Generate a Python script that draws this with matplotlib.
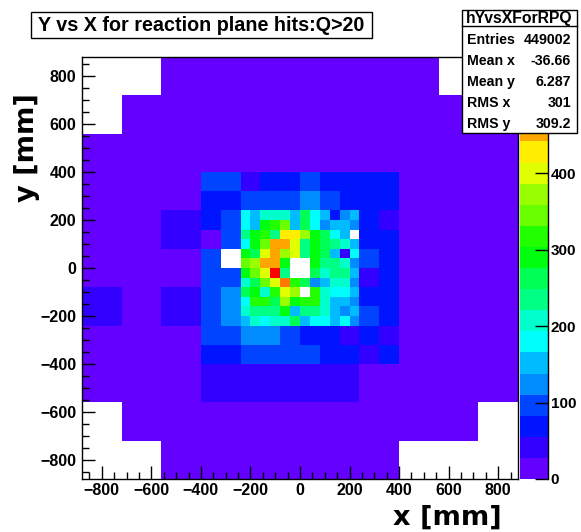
import colorsys
import numpy as np
import matplotlib
matplotlib.use("Agg")
import matplotlib.pyplot as plt
from matplotlib.colors import ListedColormap, BoundaryNorm
from matplotlib.patches import Rectangle
from matplotlib.lines import Line2D
from matplotlib.ticker import MultipleLocator

# ---------------------------------------------------------------- binning (mm)
x_edges = np.arange(-880, 881, 40)
y_edges = np.arange(-880, 881, 40)

# ---------------------------------------------------------------- bin contents
# hits in the big outer modules
outer_count = 18
# (x0, x1, y0, y1, hits) for outer modules that differ from outer_count
outer_modules = [
    (-880, -560, 720, 880, 0), (-880, -720, 560, 720, 0),
    (560, 880, 720, 880, 0), (720, 880, 560, 720, 0),
    (-880, -720, -720, -560, 0), (-880, -560, -880, -720, 0),
    (720, 880, -720, -560, 0), (400, 880, -880, -720, 0),
    (-880, -720, -240, -80, 38),
    (-560, -400, 80, 240, 40),
    (-560, -400, -240, -80, 36),
    (-400, 240, -560, -400, 43),
]

# 80 mm modules covering -400..400 (rows from top, y = 400 -> -400);
# None marks the finely segmented centre
mid_modules = [
    [94, 98, 47, 72, 66, 101, 70, 63, 61, 67],
    [74, 69, 96, 104, 91, 127, 89, 71, 65, 60],
    [71, 92, None, None, None, None, None, None, 68, 49],
    [24, 99, None, None, None, None, None, None, 63, 59],
    [90, 0, None, None, None, None, None, None, 86, 64],
    [95, 102, None, None, None, None, None, None, 52, 62],
    [88, 118, None, None, None, None, None, None, 75, 66],
    [93, 114, None, None, None, None, None, None, 85, 69],
    [97, 100, 123, 128, 90, 73, 67, 51, 64, 46],
    [76, 70, 88, 95, 103, 87, 78, 62, 45, 68],
]

# 40 mm cells covering -240..240 (rows from top, y = 240 -> -240)
core_cells = [
    [178, 151, 206, 210, 203, 154, 262, 181, 149, 68, 122, 156],
    [183, 147, 289, 317, 344, 160, 259, 176, 125, 152, 145, 119],
    [236, 292, 322, 231, 428, 431, 371, 285, 264, 184, 150, 0],
    [175, 296, 347, 452, 458, 401, 228, 290, 266, 239, 209, 143],
    [288, 255, 397, 455, 376, 404, 234, 296, 259, 152, 44, 181],
    [339, 366, 449, 462, 283, 0, 0, 293, 240, 227, 213, 126],
    [294, 352, 410, 552, 242, 0, 0, 270, 204, 233, 230, 158],
    [207, 265, 343, 392, 480, 319, 256, 131, 146, 214, 197, 121],
    [268, 280, 212, 325, 399, 381, 0, 310, 199, 186, 171, 160],
    [177, 312, 306, 262, 374, 286, 321, 315, 217, 155, 141, 128],
    [201, 227, 243, 230, 280, 149, 237, 244, 208, 162, 117, 143],
    [163, 200, 188, 196, 215, 251, 157, 172, 185, 144, 174, 130],
]

# statistics box
hist_name = "hYvsXForRPQ"
stats = [("Entries", "449002"), ("Mean x", "-36.66"), ("Mean y", "6.287"),
         ("RMS x", "301"), ("RMS y", "309.2")]
title = "Y vs X for reaction plane hits:Q>20"
z_ticks = [0, 100, 200, 300, 400]


# ---------------------------------------------------------------- fill histogram
H = np.full((len(y_edges) - 1, len(x_edges) - 1), float(outer_count))


def fill(x0, x1, y0, y1, value):
    ix0, ix1 = np.searchsorted(x_edges, [x0, x1])
    iy0, iy1 = np.searchsorted(y_edges, [y0, y1])
    H[iy0:iy1, ix0:ix1] = value


for x0, x1, y0, y1, v in outer_modules:
    fill(x0, x1, y0, y1, v)
for r, row in enumerate(mid_modules):
    for c, v in enumerate(row):
        if v is not None:
            fill(-400 + 80 * c, -320 + 80 * c, 320 - 80 * r, 400 - 80 * r, v)
for r, row in enumerate(core_cells):
    for c, v in enumerate(row):
        fill(-240 + 40 * c, -200 + 40 * c, 200 - 40 * r, 240 - 40 * r, v)

# ---------------------------------------------------------------- palette
pretty = []
for i in range(50):
    hue = 280.0 - (i + 1) * (280.0 / 50)
    pretty.append(colorsys.hls_to_rgb(hue / 360.0, 0.5, 1.0))
ndiv = 20
level_colors = [pretty[int((k + 0.99) * 50 / ndiv)] for k in range(ndiv)]
zmax = H.max()
levels = np.linspace(0, zmax, ndiv + 1)
cmap = ListedColormap(level_colors)
norm = BoundaryNorm(levels, cmap.N)

# ---------------------------------------------------------------- figure
W, Hpx = 581, 532
fig = plt.figure(figsize=(W / 100, Hpx / 100), dpi=100)
fig.patch.set_facecolor("white")


def fx(px):
    return px / W


def fy(py):
    return 1 - py / Hpx


tick_font = dict(family="Liberation Sans", weight="bold", size=11.5)

ax = fig.add_axes([fx(82), fy(479), fx(518) - fx(82), fy(57) - fy(479)])
mesh = ax.pcolormesh(x_edges, y_edges, np.ma.masked_equal(H, 0), cmap=cmap,
                     norm=norm, edgecolors="none", antialiased=False)
ax.set_xlim(-880, 880)
ax.set_ylim(-880, 880)
ax.xaxis.set_major_locator(MultipleLocator(200))
ax.yaxis.set_major_locator(MultipleLocator(200))
ax.xaxis.set_minor_locator(MultipleLocator(50))
ax.yaxis.set_minor_locator(MultipleLocator(50))
ax.tick_params(which="both", direction="in", top=False, right=False, width=1.0, color="black")
ax.tick_params(which="major", length=9.4)
ax.tick_params(which="minor", length=4.7)
ax.tick_params(axis="x", pad=3)
ax.tick_params(axis="y", pad=4)
for lab in ax.get_xticklabels() + ax.get_yticklabels():
    lab.set_fontproperties(tick_font)
for sp in ax.spines.values():
    sp.set_linewidth(1.0)

# axis titles
fig.text(fx(502), fy(518), "x [mm]", ha="right", va="center",
         family="DejaVu Sans", weight="bold", size=19.5)
fig.text(fx(27), fy(93), "y [mm]", ha="center", va="top", rotation=90,
         family="DejaVu Sans", weight="bold", size=19.5)

# palette axis
cax = fig.add_axes([fx(520), fy(479), fx(548) - fx(520), fy(57) - fy(479)])
cb = fig.colorbar(mesh, cax=cax, ticks=z_ticks)
cb.outline.set_visible(False)
cb.minorticks_off()
cax.tick_params(direction="in", length=9.4, width=1.0, right=True, pad=2)
for lab in cax.get_yticklabels():
    lab.set_fontproperties(dict(family="Liberation Sans", weight="bold", size=11))
cax.add_line(Line2D([1, 1], [0, 1], transform=cax.transAxes, color="black",
                    lw=1.0, clip_on=False))

# title box
fig.patches.append(Rectangle((fx(31), fy(38)), fx(372) - fx(31), fy(12) - fy(38),
                             transform=fig.transFigure, facecolor="white",
                             edgecolor="black", lw=1.0, zorder=5))
fig.text(fx(201.5), fy(25.5), title, ha="center", va="center",
         family="Liberation Sans", weight="bold", size=14.2, zorder=6)

# statistics box
bx0, bx1, by0, by1 = 462, 577, 10, 133
fig.patches.append(Rectangle((fx(bx0), fy(by1)), fx(bx1) - fx(bx0), fy(by0) - fy(by1),
                             transform=fig.transFigure, facecolor="white",
                             edgecolor="black", lw=1.0, zorder=5))
fig.lines.append(Line2D([fx(bx0), fx(bx1)], [fy(26), fy(26)], transform=fig.transFigure,
                        color="black", lw=1.0, zorder=6))
stat_font = dict(family="Liberation Sans", weight="bold", size=10.2)
fig.text(fx((bx0 + bx1) / 2), fy(18), hist_name, ha="center", va="center",
         zorder=7, family="Liberation Sans", weight="bold", size=11.3)
for i, (name, val) in enumerate(stats):
    yy = 40 + i * 21
    fig.text(fx(467), fy(yy), name, ha="left", va="center", zorder=7, **stat_font)
    fig.text(fx(571), fy(yy), val, ha="right", va="center", zorder=7, **stat_font)

fig.savefig("out.png", dpi=100)
